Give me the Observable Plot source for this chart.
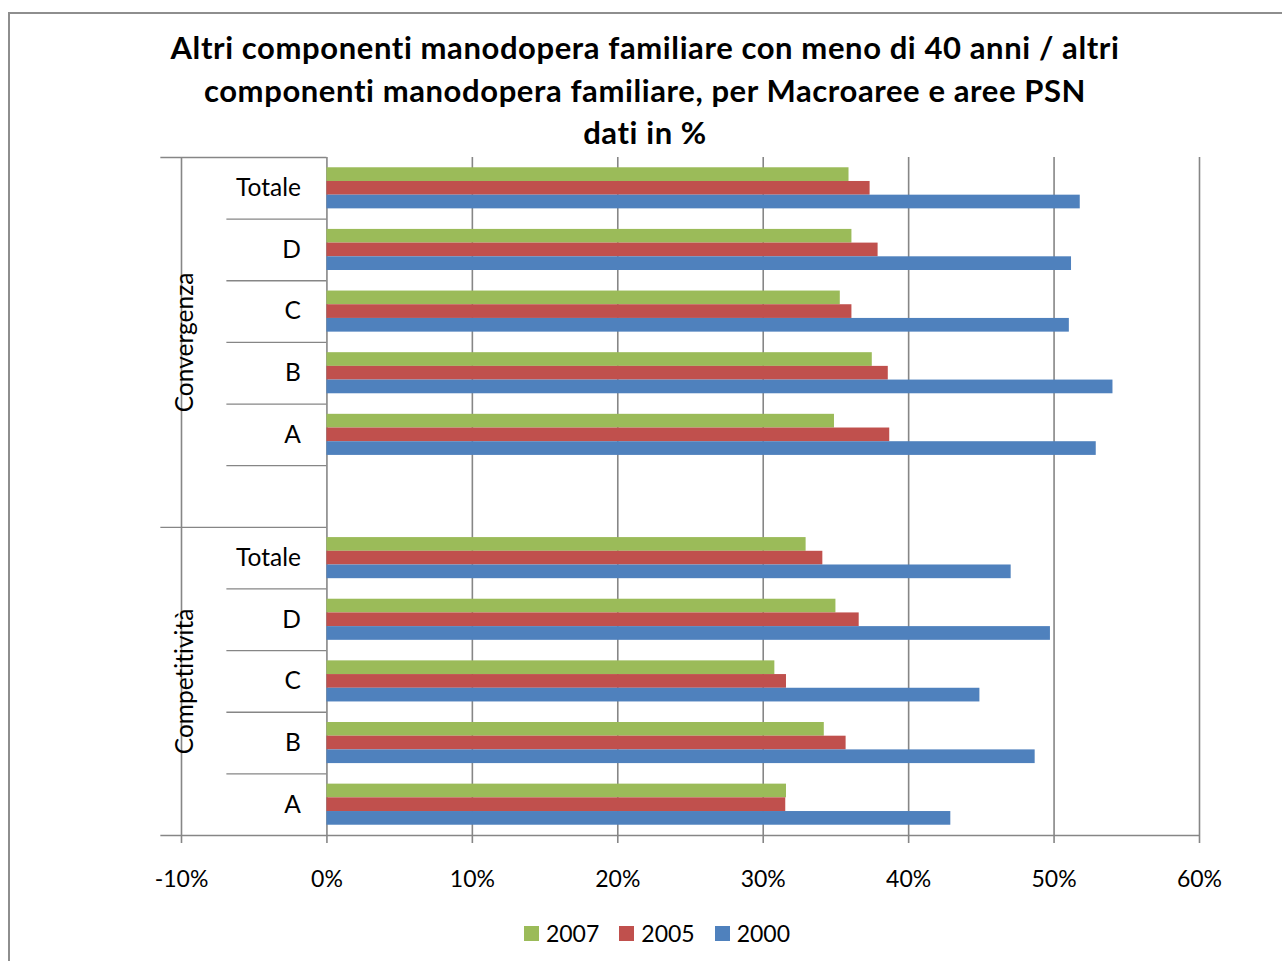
<!DOCTYPE html>
<html>
<head>
<meta charset="utf-8">
<script src="https://cdn.jsdelivr.net/npm/d3@7"></script>
<script src="https://cdn.jsdelivr.net/npm/@observablehq/plot@0.6"></script>
<style>
  body { margin: 0; background: #fff; font-family: Lato, "Open Sans", sans-serif; color: #000; font-variant-ligatures: none; }
  #frame { position: absolute; left: 8px; top: 12px; width: 1320px; height: 1000px; border: 2px solid #8e8e8e; box-sizing: border-box; }
  #title { position: absolute; left: 0; top: 26px; width: 1290px; text-align: center; font-weight: bold; font-size: 31px; letter-spacing: 0.6px; line-height: 42.5px; font-variant-ligatures: none; }
  #chart { position: absolute; left: 0; top: 140px; }
  #chart text { font-variant-ligatures: none; }
  #legend { position: absolute; left: 0; top: 917px; width: 1314px; display: flex; justify-content: center; align-items: center; font-size: 23px; line-height: 32px; }
  #legend .item { display: flex; align-items: center; margin: 0 10px; }
  #legend .sw { width: 15px; height: 15px; display: inline-block; margin-right: 7px; }
</style>
</head>
<body>
<div id="frame"></div>
<div id="title">Altri componenti manodopera familiare con meno di 40 anni / altri<br>componenti manodopera familiare, per Macroaree e aree PSN<br>dati in %</div>
<div id="chart"></div>
<div id="legend"></div>
<script>
// ---- data (values in %) ----
const groups = ["Convergenza", "Competitività"];
const areas = ["Totale", "D", "C", "B", "A"];
const series = ["2007", "2005", "2000"];
const colors = ["#9BBB59", "#C0504D", "#4F81BD"];
const conv2007 = [35.9, 36.1, 35.3, 37.5, 34.9];
const conv2005 = [37.35, 37.9, 36.1, 38.6, 38.7];
const conv2000 = [51.8, 51.2, 51.05, 54.05, 52.9];
const comp2007 = [32.95, 35.0, 30.8, 34.2, 31.6];
const comp2005 = [34.1, 36.6, 31.6, 35.7, 31.55];
const comp2000 = [47.05, 49.75, 44.9, 48.7, 42.9];
const xTicks = [-0.1, 0, 0.1, 0.2, 0.3, 0.4, 0.5, 0.6];
const xTickLabels = ["-10%", "0%", "10%", "20%", "30%", "40%", "50%", "60%"];

// ---- table ----
const values = {
  "Convergenza": [conv2007, conv2005, conv2000],
  "Competitività": [comp2007, comp2005, comp2000]
};
const rows = [];
groups.forEach((g, gi) => {
  areas.forEach((a, ai) => {
    const r = {key: g + "|" + a, group: g, area: a};
    series.forEach((s, si) => r["v" + s] = values[g][si][ai] / 100);
    rows.push(r);
  });
  if (gi < groups.length - 1) rows.push({key: g + "|blank", group: g, area: ""});
});
const keys = rows.map(d => d.key);

// ---- layout ----
const W = 1282, H = 760, mt = 17, mb = 65, ml = 181, mr = 83;
const B = (H - mt - mb) / keys.length;   // row band
const h = B / 4.5;                       // bar thickness (Excel gap 150%)
const labelColStart = -0.0688;           // inner label column left edge (x units)
const outerStart = -0.1142;              // outer tick extent (x units)
const gridColor = "#868686";

const barMarks = series.map((s, i) => {
  const top = 0.75 * h + i * h;
  return Plot.barX(rows.filter(d => d["v" + s] != null), {
    x: "v" + s, y: "key", fill: colors[i],
    insetTop: top, insetBottom: B - top - h
  });
});

const groupLabelMarks = groups.map(g => {
  const gk = rows.filter(d => d.group === g).map(d => d.key);
  const n = gk.length;
  const even = n % 2 === 0;
  const k = even ? gk[n / 2 - 1] : gk[(n - 1) / 2];
  return Plot.text([g], {
    x: -0.1, y: () => k, text: d => d, rotate: -90,
    dx: 3.5, dy: even ? B / 2 : 0, fontSize: 24.5, fill: "#000"
  });
});

const sepKeys = keys.filter((k, i) => i < keys.length - 1 && rows[i + 1].group === rows[i].group);
const groupFirstKeys = groups.map(g => rows.find(d => d.group === g).key);

const chart = Plot.plot({
  width: W, height: H,
  marginTop: mt, marginBottom: mb, marginLeft: ml, marginRight: mr,
  style: {fontFamily: "Lato, 'Open Sans', sans-serif", fontSize: "23px", color: "#000", background: "transparent"},
  x: {domain: [-0.1, 0.6], axis: null},
  y: {domain: keys, padding: 0, round: false, axis: null},
  marks: [
    Plot.ruleX(xTicks, {x: d => d, stroke: gridColor, strokeWidth: 1.6, insetBottom: -8}),
    ...barMarks,
    Plot.ruleY(sepKeys, {y: d => d, x1: labelColStart, x2: 0, dy: B / 2, stroke: gridColor, strokeWidth: 1.3}),
    Plot.ruleY(groupFirstKeys, {y: d => d, x1: outerStart, x2: 0, dy: -B / 2, stroke: gridColor, strokeWidth: 1.3}),
    Plot.ruleY([keys[keys.length - 1]], {y: d => d, x1: outerStart, x2: 0.6, dy: B / 2, stroke: gridColor, strokeWidth: 1.6}),
    Plot.text(rows.filter(d => d.area), {x: 0, y: "key", text: "area", textAnchor: "end", dx: -26, fontSize: 24.5, fill: "#000"}),
    ...groupLabelMarks,
    Plot.text(xTicks, {x: d => d, frameAnchor: "bottom", text: (d, i) => xTickLabels[i], dy: 44, lineAnchor: "middle", fontSize: 23, fill: "#000"})
  ]
});
document.getElementById("chart").appendChild(chart);

// ---- legend ----
const legend = document.getElementById("legend");
series.forEach((s, i) => {
  const it = document.createElement("span");
  it.className = "item";
  const sw = document.createElement("span");
  sw.className = "sw";
  sw.style.background = colors[i];
  it.appendChild(sw);
  it.appendChild(document.createTextNode(s));
  legend.appendChild(it);
});
</script>
</body>
</html>
